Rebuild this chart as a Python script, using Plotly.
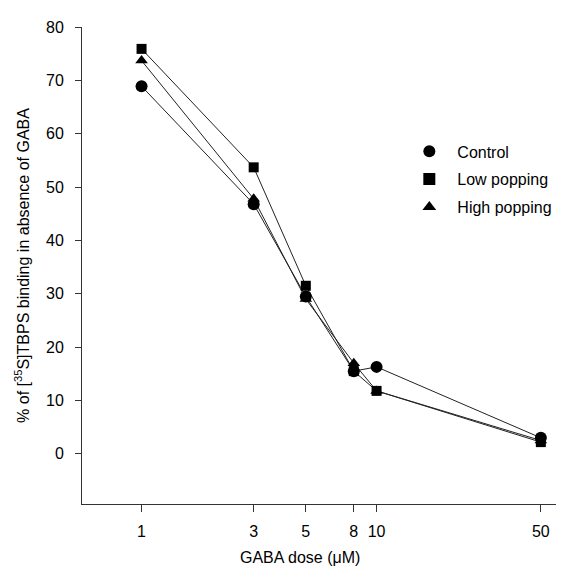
import plotly.graph_objects as go
import numpy as np

dose = [1, 3, 5, 8, 10, 50]
tick_labels = ["1", "3", "5", "8", "10", "50"]
control = [68.9, 46.8, 29.5, 15.5, 16.3, 3.0]
low_popping = [75.9, 53.7, 31.5, 15.5, 11.8, 2.2]
high_popping = [73.7, 47.8, 29.0, 17.0, 11.8, 2.5]
y_ticks = [0, 10, 20, 30, 40, 50, 60, 70, 80]

# page body adds an 8px margin; figure sized so it fills the 568x580 window
W, H = 560, 572
L, R, T, B = 74, 11, 12, 76
PW, PH = W - L - R, H - T - B

fig = go.Figure()
series = [
    ("Control", control, "circle", 12),
    ("Low popping", low_popping, "square", 10),
    ("High popping", high_popping, "triangle-up", 11),
]
for name, vals, sym, sz in series:
    fig.add_trace(go.Scatter(
        x=dose, y=vals, mode="lines", showlegend=False,
        line=dict(color="#222222", width=1), hoverinfo="skip",
    ))
for i, (name, vals, sym, sz) in enumerate(series):
    fig.add_trace(go.Scatter(
        x=dose, y=vals, name=name, mode="markers", legendgroup=f"g{i}",
        marker=dict(symbol=sym, size=sz, color="black"),
    ))

fig.update_layout(
    width=W, height=H,
    margin=dict(l=L, r=R, t=T, b=B),
    paper_bgcolor="white", plot_bgcolor="white",
    font=dict(family="Liberation Sans, Arial, sans-serif", size=16, color="black"),
    showlegend=True,
    legend=dict(x=(402 - 8 - L) / PW, y=1 - (129 - 8 - T) / PH,
                xanchor="left", yanchor="top",
                bgcolor="rgba(0,0,0,0)", font=dict(size=16),
                itemsizing="constant", tracegroupgap=4, itemwidth=46),
)
fig.update_xaxes(
    type="log", range=[np.log10(0.558), np.log10(58)],
    tickvals=dose, ticktext=tick_labels,
    ticks="outside", ticklen=7, tickcolor="#333333", tickwidth=1,
    showline=True, linecolor="#333333", linewidth=1,
    showgrid=False, zeroline=False,
    tickfont=dict(size=16), ticklabelstandoff=6,
)
fig.update_yaxes(
    range=[-9.4, 80], tickvals=y_ticks,
    ticks="outside", ticklen=6, tickcolor="#333333", tickwidth=1,
    showline=True, linecolor="#333333", linewidth=1,
    showgrid=False, zeroline=False,
    tickfont=dict(size=16), ticklabelstandoff=8,
    title=dict(text="% of [<sup>35</sup>S]TBPS binding in absence of GABA",
               font=dict(size=16), standoff=12),
)
fig.add_annotation(
    text="GABA dose (\u03bcM)", xref="paper", yref="paper",
    x=(300 - 8 - L) / PW, y=-(558 - 8 - (H - B)) / PH,
    xanchor="center", yanchor="middle", showarrow=False,
    font=dict(size=16),
)

fig.write_html("out.html")
